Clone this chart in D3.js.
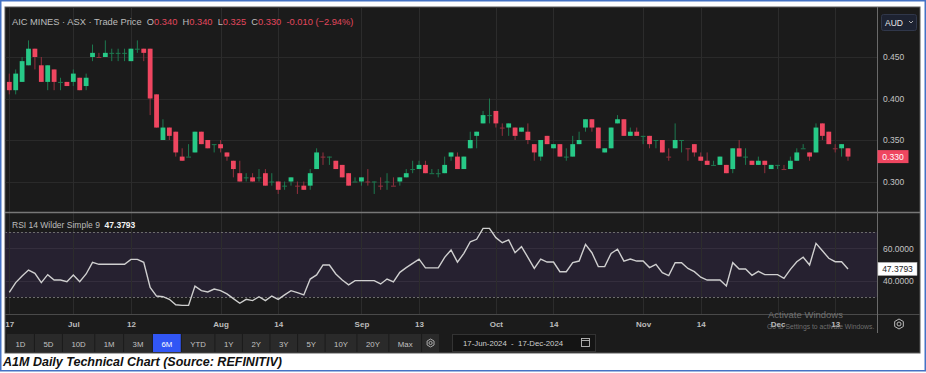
<!DOCTYPE html>
<html><head><meta charset="utf-8">
<script src="https://cdn.jsdelivr.net/npm/d3@7"></script>
<style>
html,body{margin:0;padding:0;background:#fff;}
svg{display:block;font-family:"Liberation Sans",Arial,sans-serif;}
</style></head><body>
<svg id="chart" width="926" height="373"></svg>
<script>
// daily OHLC, 17-Jun-2024 .. 17-Dec-2024 (one value per trading day)
var openP = [0.420,0.410,0.420,0.440,0.460,0.440,0.420,0.435,0.420,0.420,0.420,0.425,0.415,0.450,0.450,0.450,0.455,0.455,0.455,0.445,
  0.460,0.460,0.460,0.405,0.350,0.365,0.360,0.330,0.330,0.335,0.360,0.350,0.345,0.345,0.335,0.325,0.310,0.305,0.305,0.305,
  0.310,0.300,0.300,0.295,0.300,0.295,0.295,0.295,0.315,0.330,0.330,0.325,0.320,0.310,0.300,0.300,0.300,0.300,0.295,0.300,
  0.295,0.300,0.305,0.315,0.315,0.320,0.310,0.310,0.310,0.330,0.330,0.315,0.340,0.355,0.370,0.380,0.385,0.365,0.365,0.365,
  0.360,0.360,0.345,0.330,0.355,0.340,0.345,0.330,0.330,0.345,0.365,0.375,0.365,0.335,0.340,0.370,0.375,0.355,0.360,0.355,
  0.355,0.350,0.350,0.330,0.340,0.350,0.340,0.345,0.330,0.325,0.320,0.320,0.320,0.315,0.340,0.330,0.325,0.320,0.325,0.315,
  0.320,0.315,0.315,0.325,0.340,0.335,0.335,0.370,0.360,0.340,0.340,0.340];
var highP = [0.430,0.435,0.450,0.470,0.460,0.450,0.440,0.435,0.425,0.420,0.435,0.425,0.430,0.465,0.455,0.470,0.460,0.460,0.460,0.460,
  0.470,0.460,0.460,0.405,0.375,0.365,0.360,0.340,0.345,0.360,0.360,0.350,0.345,0.350,0.335,0.325,0.325,0.310,0.310,0.315,
  0.315,0.310,0.300,0.300,0.305,0.300,0.300,0.315,0.340,0.335,0.330,0.325,0.320,0.310,0.305,0.305,0.315,0.300,0.305,0.310,
  0.305,0.305,0.315,0.325,0.325,0.325,0.315,0.315,0.330,0.335,0.335,0.330,0.360,0.360,0.385,0.400,0.385,0.370,0.370,0.365,
  0.365,0.370,0.345,0.350,0.355,0.345,0.345,0.340,0.355,0.360,0.375,0.375,0.365,0.340,0.365,0.380,0.375,0.365,0.365,0.355,
  0.355,0.350,0.350,0.340,0.370,0.350,0.340,0.345,0.335,0.335,0.325,0.330,0.320,0.340,0.350,0.340,0.325,0.330,0.325,0.320,
  0.320,0.320,0.330,0.340,0.345,0.335,0.370,0.370,0.360,0.345,0.345,0.340];
var lowP = [0.405,0.405,0.420,0.440,0.435,0.420,0.410,0.410,0.410,0.415,0.415,0.410,0.410,0.445,0.450,0.450,0.445,0.445,0.445,0.445,
  0.455,0.445,0.380,0.365,0.350,0.350,0.330,0.325,0.330,0.335,0.345,0.340,0.335,0.335,0.325,0.305,0.300,0.300,0.300,0.300,
  0.295,0.295,0.285,0.290,0.295,0.285,0.290,0.290,0.315,0.320,0.320,0.315,0.305,0.295,0.300,0.295,0.295,0.285,0.290,0.290,
  0.295,0.295,0.305,0.310,0.315,0.310,0.310,0.305,0.310,0.325,0.315,0.315,0.340,0.340,0.370,0.370,0.365,0.355,0.355,0.350,
  0.360,0.345,0.325,0.325,0.345,0.340,0.330,0.325,0.330,0.345,0.360,0.360,0.340,0.335,0.340,0.370,0.355,0.355,0.355,0.345,
  0.340,0.340,0.335,0.325,0.340,0.335,0.325,0.330,0.325,0.320,0.320,0.320,0.310,0.310,0.330,0.320,0.320,0.320,0.310,0.315,
  0.315,0.315,0.315,0.325,0.340,0.325,0.335,0.350,0.345,0.335,0.330,0.325];
var closeP = [0.410,0.430,0.445,0.460,0.450,0.420,0.440,0.420,0.420,0.415,0.430,0.410,0.425,0.455,0.450,0.455,0.455,0.455,0.455,0.460,
  0.460,0.455,0.400,0.365,0.365,0.355,0.335,0.325,0.330,0.360,0.345,0.340,0.345,0.340,0.330,0.315,0.300,0.305,0.300,0.305,
  0.295,0.300,0.290,0.295,0.305,0.295,0.290,0.310,0.335,0.330,0.330,0.315,0.305,0.295,0.300,0.305,0.300,0.300,0.295,0.300,
  0.295,0.305,0.310,0.315,0.320,0.310,0.310,0.310,0.320,0.335,0.315,0.330,0.350,0.360,0.380,0.380,0.370,0.365,0.370,0.355,
  0.365,0.350,0.335,0.350,0.345,0.345,0.330,0.330,0.345,0.350,0.375,0.365,0.340,0.340,0.365,0.375,0.355,0.360,0.355,0.355,
  0.345,0.350,0.335,0.330,0.350,0.350,0.340,0.335,0.325,0.320,0.320,0.330,0.310,0.340,0.330,0.330,0.320,0.325,0.320,0.320,
  0.320,0.315,0.325,0.335,0.340,0.330,0.365,0.355,0.345,0.340,0.345,0.330];
// RSI 14 (Wilder)
var rsiValues = [33.1,39.0,43.1,46.7,44.7,39.0,43.9,40.6,40.6,39.6,43.7,39.6,44.3,51.4,50.2,50.2,50.2,50.2,50.2,53.2,
  53.2,51.4,36.1,30.8,30.4,28.8,25.5,25.1,25.1,36.9,34.1,33.3,35.1,34.1,32.1,29.2,26.4,28.8,28.0,30.4,
  28.0,30.8,28.8,31.5,34.1,32.9,31.5,41.2,43.7,49.8,49.8,44.3,40.6,37.6,40.2,40.2,40.2,40.2,38.2,41.2,
  39.4,45.3,48.2,50.8,53.4,48.0,48.0,48.0,54.5,59.0,51.5,56.9,64.0,65.5,72.2,72.2,66.5,63.4,65.1,57.3,
  61.0,54.5,47.7,53.4,51.6,51.6,45.7,45.7,51.2,52.2,62.4,57.3,48.8,48.8,56.9,59.4,52.2,53.4,52.2,52.2,
  48.2,50.2,45.1,43.3,51.2,51.2,47.7,45.7,42.3,40.6,40.6,40.6,37.0,51.2,47.3,47.3,43.5,45.9,43.9,43.9,
  43.9,41.6,47.1,51.8,54.5,49.8,63.0,58.5,53.9,51.8,51.8,47.3793];

var tickDates = ["2024-06-17","2024-07-01","2024-07-12","2024-08-01","2024-08-14","2024-09-02","2024-09-13",
  "2024-10-01","2024-10-14","2024-11-01","2024-11-14","2024-12-02","2024-12-13"];
var tickLabels = ["17","Jul","12","Aug","14","Sep","13","Oct","14","Nov","14","Dec","13"];
var priceTicks = [0.30, 0.35, 0.40, 0.45];
var rsiTicks = [40, 60];
var rsiLevels = [30, 70];
var rangeButtons = ["1D","5D","10D","1M","3M","6M","YTD","1Y","2Y","3Y","5Y","10Y","20Y","Max"];
var headerParts = [["AIC MINES \u00b7 ASX \u00b7 Trade Price  ","#bdbdbd"],["O","#bdbdbd"],["0.340  ","#e2475d"],
  ["H","#bdbdbd"],["0.340  ","#e2475d"],["L","#bdbdbd"],["0.325  ","#e2475d"],["C","#bdbdbd"],["0.330  ","#e2475d"],
  ["-0.010 (\u22122.94%)","#e2475d"]];

var UP = "#27c987", DOWN = "#ef4660", UP_WICK = "#1d7a50", DOWN_WICK = "#95303f";
var L = 5, R = 920, AX = 877;

var svg = d3.select("#chart");
var parse = d3.timeParse("%Y-%m-%d");
var days = d3.timeDay.range(parse("2024-06-17"), parse("2024-12-18"))
    .filter(function(d) { return d.getDay() % 6 !== 0; });

var candles = days.map(function(d, i) {
    return {date: d, o: openP[i], h: highP[i], l: lowP[i], c: closeP[i], rsi: rsiValues[i], i: i};
});

var x = d3.scalePoint().domain(days).range([9.3, 848]);
var y = d3.scaleLinear().domain([0.30, 0.45]).range([181.5, 57]);
var yR = d3.scaleLinear().domain([40, 60]).range([281, 248.3]);

// frame
svg.append("rect").attr("x", 0.75).attr("y", 0.75).attr("width", 924.5).attr("height", 370)
    .attr("fill", "#fff").attr("stroke", "#4472c4").attr("stroke-width", 1.5);
svg.append("rect").attr("x", L).attr("y", 7).attr("width", R - L).attr("height", 346)
    .attr("fill", "#1b1b1b").attr("stroke", "#5a5a5a").attr("stroke-width", 1);

var defs = svg.append("defs");
defs.append("clipPath").attr("id", "plotClip").append("rect")
    .attr("x", L + 0.5).attr("y", 8).attr("width", AX - L - 0.5).attr("height", 306);

// rsi band
svg.append("rect").attr("x", L + 0.5).attr("width", AX - L - 0.5)
    .attr("y", yR(70)).attr("height", yR(30) - yR(70)).attr("fill", "#262130");

// grid
var grid = svg.append("g").attr("clip-path", "url(#plotClip)");
grid.selectAll(".hg").data(priceTicks).enter().append("line")
    .attr("x1", L).attr("x2", AX).attr("y1", function(d) { return Math.round(y(d)) + 0.5; })
    .attr("y2", function(d) { return Math.round(y(d)) + 0.5; })
    .attr("stroke", "#2a2a2a");
grid.selectAll(".rg").data(rsiTicks).enter().append("line")
    .attr("x1", L).attr("x2", AX).attr("y1", function(d) { return Math.round(yR(d)) + 0.5; })
    .attr("y2", function(d) { return Math.round(yR(d)) + 0.5; })
    .attr("stroke", "#342e3d");
grid.selectAll(".vg").data(tickDates).enter().append("line")
    .attr("x1", function(d) { return Math.round(x(parse(d))) + 0.5; })
    .attr("x2", function(d) { return Math.round(x(parse(d))) + 0.5; })
    .attr("y1", 8).attr("y2", 314).attr("stroke", "#2c2c2c");
grid.selectAll(".lv").data(rsiLevels).enter().append("line")
    .attr("x1", L).attr("x2", AX).attr("y1", function(d) { return Math.round(yR(d)) + 0.5; })
    .attr("y2", function(d) { return Math.round(yR(d)) + 0.5; })
    .attr("stroke", "#6b6b6b").attr("stroke-dasharray", "2,2");

// candles
function isUp(d) {
    if (d.c !== d.o) return d.c > d.o;
    return d.i === 0 || d.c >= closeP[d.i - 1];
}
var cg = svg.append("g").attr("clip-path", "url(#plotClip)");
var bw = 4.8;
var cnd = cg.selectAll(".candle").data(candles).enter().append("g");
cnd.append("line")
    .attr("x1", function(d) { return x(d.date); }).attr("x2", function(d) { return x(d.date); })
    .attr("y1", function(d) { return y(d.h); }).attr("y2", function(d) { return y(d.l); })
    .attr("stroke", function(d) { return isUp(d) ? UP_WICK : DOWN_WICK; }).attr("stroke-width", 1);
cnd.append("rect")
    .attr("x", function(d) { return x(d.date) - bw / 2; })
    .attr("width", bw)
    .attr("y", function(d) { return y(Math.max(d.o, d.c)); })
    .attr("height", function(d) { return Math.max(1, Math.abs(y(d.o) - y(d.c))); })
    .attr("fill", function(d) {
        if (d.o === d.c) return isUp(d) ? UP_WICK : DOWN_WICK;
        return isUp(d) ? UP : DOWN;
    });

// rsi line
var rsiLine = d3.line().x(function(d) { return x(d.date); }).y(function(d) { return yR(d.rsi); });
cg.append("path").datum(candles).attr("d", rsiLine)
    .attr("fill", "none").attr("stroke", "#cfcfcf").attr("stroke-width", 1.4);

// separators
svg.append("line").attr("x1", L).attr("x2", R).attr("y1", 212.5).attr("y2", 212.5)
    .attr("stroke", "#777").attr("stroke-width", 1.5);
svg.append("line").attr("x1", L).attr("x2", R).attr("y1", 314.5).attr("y2", 314.5)
    .attr("stroke", "#4a4a4a");
svg.append("line").attr("x1", AX + 0.5).attr("x2", AX + 0.5).attr("y1", 7).attr("y2", 333)
    .attr("stroke", "#6a6a6a");

// price axis
var pAxis = svg.append("g").attr("transform", "translate(" + AX + ",0)")
    .call(d3.axisRight(y).tickValues(priceTicks).tickSize(0).tickPadding(6).tickFormat(d3.format(".3f")));
pAxis.select(".domain").remove();
pAxis.selectAll("text").attr("fill", "#c4c4c4").attr("font-size", "8.5px").attr("font-family", "Liberation Sans, Arial");

var last = candles[candles.length - 1];
svg.append("rect").attr("x", AX + 0.5).attr("y", y(last.c) - 6.5).attr("width", 31).attr("height", 13)
    .attr("fill", DOWN);
svg.append("text").attr("x", AX + 16).attr("y", y(last.c) + 3).attr("text-anchor", "middle")
    .attr("fill", "#fff").attr("font-size", "8.5px").text(d3.format(".3f")(last.c));

// currency box
svg.append("rect").attr("x", 881.5).attr("y", 14.5).attr("width", 35).attr("height", 16).attr("rx", 2)
    .attr("fill", "#1d2231").attr("stroke", "#30374a");
svg.append("text").attr("x", 885).attr("y", 25.5).attr("fill", "#e6e6e6").attr("font-size", "8.5px").text("AUD");
svg.append("path").attr("d", "M909,21 l2,2 l2,-2").attr("fill", "none").attr("stroke", "#bbb").attr("stroke-width", 0.9);

// header
var ht = svg.append("text").attr("x", 12).attr("y", 25).attr("font-size", "9.3px").attr("xml:space", "preserve");
headerParts.forEach(function(p) { ht.append("tspan").attr("fill", p[1]).text(p[0]); });

// rsi axis
var rAxis = svg.append("g").attr("transform", "translate(" + AX + ",0)")
    .call(d3.axisRight(yR).tickValues(rsiTicks).tickSize(0).tickPadding(6).tickFormat(d3.format(".4f")));
rAxis.select(".domain").remove();
rAxis.selectAll("text").attr("fill", "#c4c4c4").attr("font-size", "8.5px").attr("font-family", "Liberation Sans, Arial");

svg.append("rect").attr("x", AX + 1).attr("y", yR(last.rsi) - 6.5).attr("width", 39).attr("height", 13)
    .attr("fill", "#fff").attr("stroke", "#bbb").attr("stroke-width", 0.5);
svg.append("text").attr("x", AX + 20.5).attr("y", yR(last.rsi) + 3).attr("text-anchor", "middle")
    .attr("fill", "#222").attr("font-size", "8.5px").text(d3.format(".4f")(last.rsi));

var rt = svg.append("text").attr("x", 12).attr("y", 228).attr("font-size", "8.5px").attr("xml:space", "preserve");
rt.append("tspan").attr("fill", "#bdbdbd").text("RSI 14 Wilder Simple 9  ");
rt.append("tspan").attr("fill", "#f2f2f2").attr("font-weight", "bold").text(d3.format(".4f")(last.rsi));

// date axis
defs.append("clipPath").attr("id", "axClip").append("rect")
    .attr("x", L + 0.5).attr("y", 315).attr("width", AX - L).attr("height", 18);
var xAxis = svg.append("g").attr("clip-path", "url(#axClip)")
    .append("g").attr("transform", "translate(0,321)")
    .call(d3.axisBottom(x).tickValues(tickDates.map(parse)).tickSize(0).tickPadding(0)
        .tickFormat(function(d, i) { return tickLabels[i]; }));
xAxis.select(".domain").remove();
xAxis.selectAll("text").attr("fill", "#bdbdbd").attr("font-size", "8px").attr("font-weight", "bold")
    .attr("font-family", "Liberation Sans, Arial").attr("dy", "0.71em");

// watermark
svg.append("text").attr("x", 768).attr("y", 318).attr("fill", "#8c8c8c").attr("fill-opacity", 0.75)
    .attr("font-size", "9.5px").text("Activate Windows");
svg.append("text").attr("x", 767).attr("y", 329).attr("fill", "#8c8c8c").attr("fill-opacity", 0.75)
    .attr("font-size", "6.8px").text("Go to Settings to activate Windows.");

function gear(cx, cy, r, col) {
    var g = svg.append("g");
    var pts = d3.range(6).map(function(k) {
        var a = Math.PI / 6 + k * Math.PI / 3;
        return [cx + r * Math.cos(a), cy + r * Math.sin(a)];
    });
    g.append("path").attr("d", "M" + pts.join("L") + "Z").attr("fill", "none").attr("stroke", col).attr("stroke-width", 1);
    g.append("circle").attr("cx", cx).attr("cy", cy).attr("r", r * 0.4).attr("fill", "none").attr("stroke", col).attr("stroke-width", 1);
}
gear(899, 324, 5, "#bbb");

// range buttons
var tb = svg.append("g");
var bx = 7;
rangeButtons.forEach(function(lbl) {
    var g = tb.append("g");
    var t = g.append("text").attr("y", 346.5).attr("font-size", "7.8px").attr("text-anchor", "middle").text(lbl);
    var w = t.node().getComputedTextLength() + 17;
    var on = lbl === "6M";
    g.insert("rect", "text").attr("x", bx).attr("y", 334).attr("width", w).attr("height", 18)
        .attr("fill", on ? "#3156f5" : "#2a2a2a");
    t.attr("x", bx + w / 2).attr("fill", on ? "#fff" : "#c2c2c2");
    bx += w + 1;
});
tb.append("rect").attr("x", bx).attr("y", 334).attr("width", 17).attr("height", 18).attr("fill", "#2a2a2a");
gear(bx + 8.5, 343, 4, "#aaa");

// date range box
svg.append("rect").attr("x", 452.5).attr("y", 334.5).attr("width", 143).attr("height", 17)
    .attr("fill", "#141414").attr("stroke", "#333");
svg.append("text").attr("x", 463).attr("y", 346).attr("fill", "#cfcfcf").attr("font-size", "7.8px")
    .attr("xml:space", "preserve").text("17-Jun-2024  -  17-Dec-2024");
svg.append("rect").attr("x", 581.5).attr("y", 338.5).attr("width", 8).attr("height", 8)
    .attr("fill", "none").attr("stroke", "#bbb").attr("stroke-width", 0.9);
svg.append("line").attr("x1", 581.5).attr("x2", 589.5).attr("y1", 340.5).attr("y2", 340.5)
    .attr("stroke", "#bbb").attr("stroke-width", 0.9);

// caption
svg.append("text").attr("x", 3).attr("y", 366).attr("fill", "#111").attr("font-size", "12px")
    .attr("font-weight", "bold").attr("font-style", "italic").attr("textLength", 279)
    .attr("lengthAdjust", "spacingAndGlyphs")
    .text("A1M Daily Technical Chart (Source: REFINITIV)");
</script>
</body></html>
